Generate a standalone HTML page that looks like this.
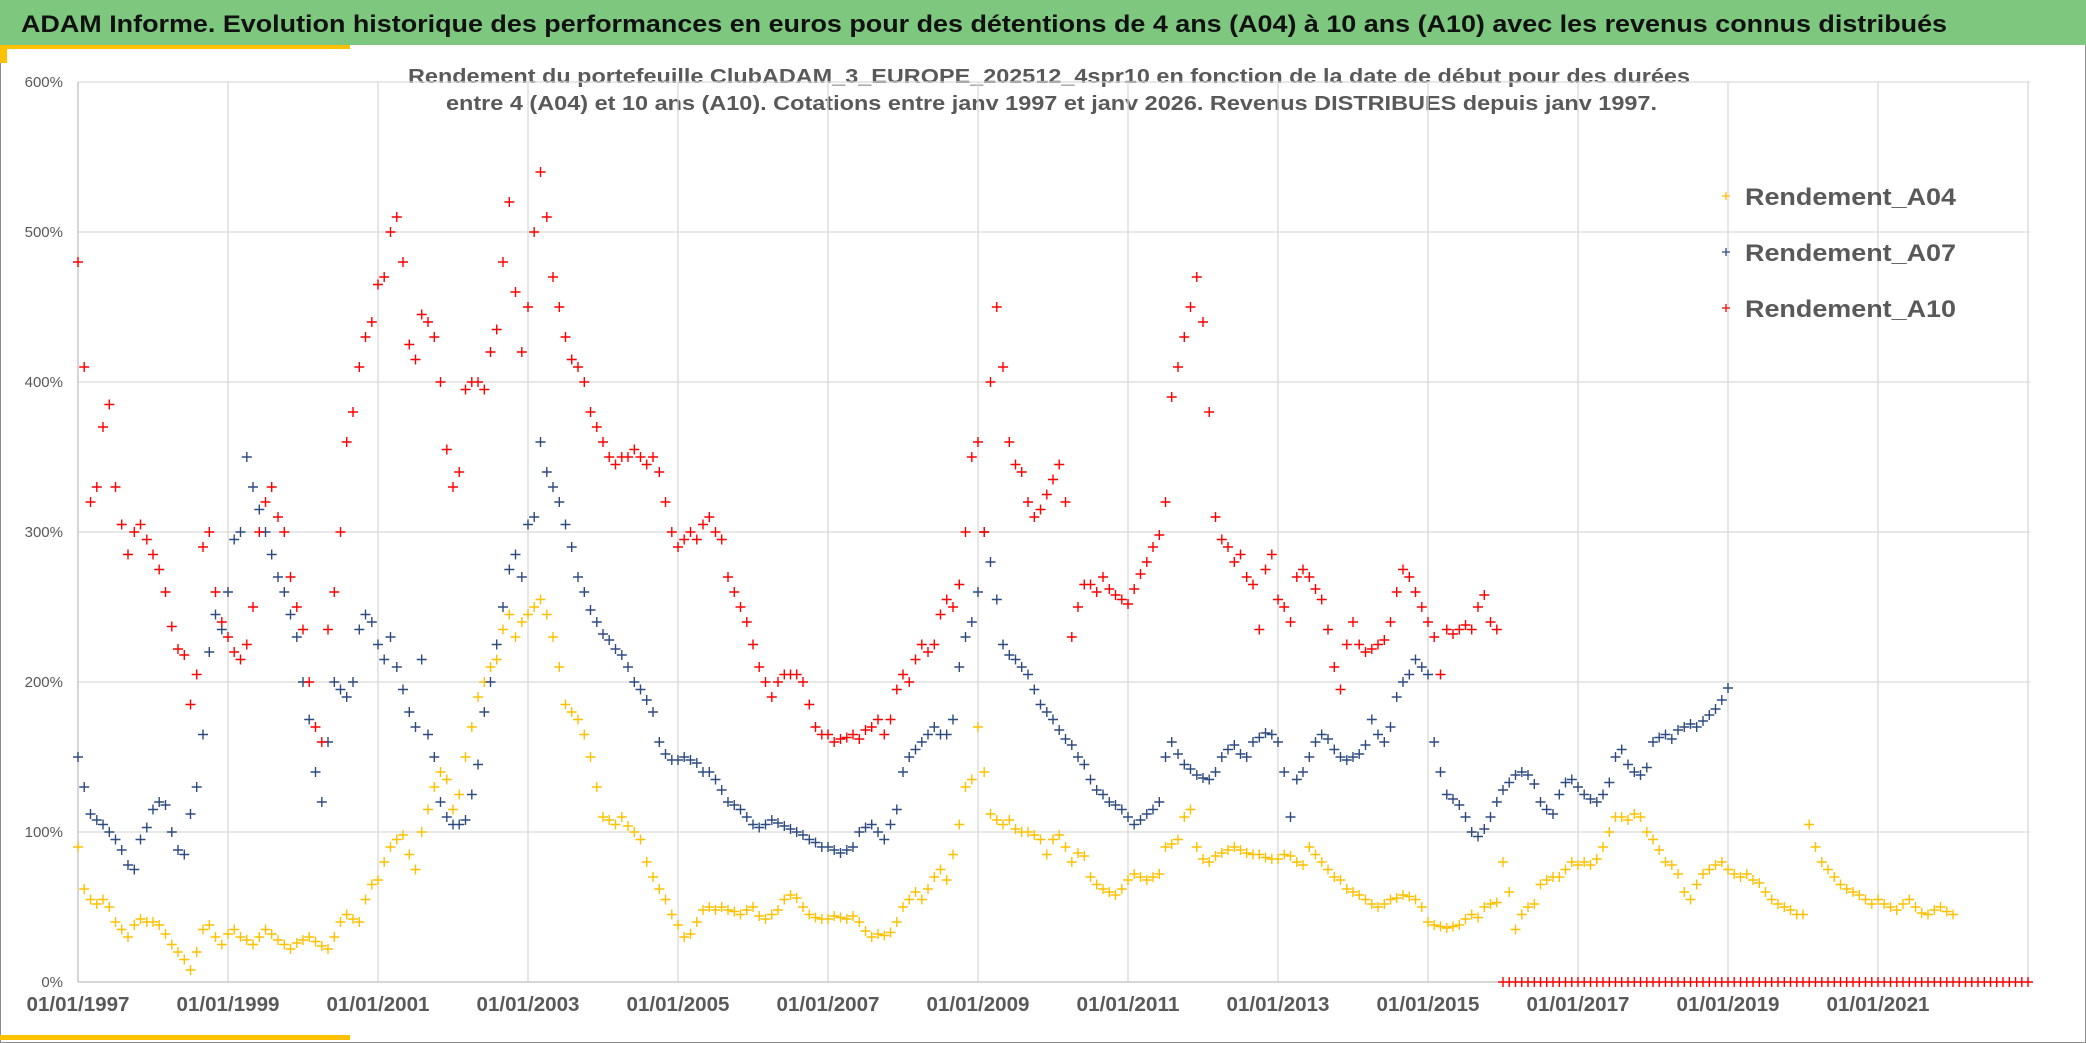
<!DOCTYPE html>
<html><head><meta charset="utf-8"><title>ADAM Informe</title>
<style>
html,body{margin:0;padding:0;background:#fff;}
svg{display:block;}
text{font-family:"Liberation Sans",sans-serif;}
</style></head>
<body>
<svg id="chart" width="2086" height="1043" viewBox="0 0 2086 1043" xmlns="http://www.w3.org/2000/svg">
  <rect x="0" y="0" width="2086" height="1043" fill="#ffffff"/>
  <rect x="0.5" y="0.5" width="2085" height="1042" fill="none" stroke="#8c8c8c" stroke-width="1"/>
  <rect x="0" y="0" width="2086" height="45" fill="#7dc77f"/>
  <rect x="0" y="45" width="350" height="4" fill="#ffc000"/>
  <rect x="0" y="45" width="7" height="18" fill="#ffc000"/>
  <rect x="0" y="1035" width="350" height="5" fill="#ffc000"/>
  <text x="21" y="32" font-size="24" font-weight="bold" fill="#111" textLength="1926" lengthAdjust="spacingAndGlyphs">ADAM Informe. Evolution historique des performances en euros pour des détentions de 4 ans (A04) à 10 ans (A10) avec les revenus connus distribués</text>
  <text x="408" y="83" font-size="20" font-weight="bold" fill="#595959" textLength="1282" lengthAdjust="spacingAndGlyphs">Rendement du portefeuille ClubADAM_3_EUROPE_202512_4spr10  en fonction de la date de début pour des durées</text>
  <text x="446" y="110" font-size="20" font-weight="bold" fill="#595959" textLength="1211" lengthAdjust="spacingAndGlyphs">entre 4 (A04) et 10 ans (A10). Cotations entre janv 1997 et janv 2026. Revenus DISTRIBUES depuis janv 1997.</text>
  <g id="grid"></g>
  <g id="yaxis"></g>
  <g id="xaxis"></g>
  <g id="series"></g>
  <g id="legend"></g>
</svg>
<script>
// ---- data (monthly samples, values in %) ----
const startYear = 1997;
const yTicks = [0, 100, 200, 300, 400, 500, 600];
const xTickYears = [1997, 1999, 2001, 2003, 2005, 2007, 2009, 2011, 2013, 2015, 2017, 2019, 2021, 2023];
const xTickLabels = ["01/01/1997","01/01/1999","01/01/2001","01/01/2003","01/01/2005","01/01/2007","01/01/2009","01/01/2011","01/01/2013","01/01/2015","01/01/2017","01/01/2019","01/01/2021",""];
const seriesNames = ["Rendement_A04", "Rendement_A07", "Rendement_A10"];
const rendementA04 = [
 90,62,55,52,55,50,40,35,30,38,42,40,
 40,38,32,25,20,15,8,20,35,38,30,25,
 32,35,30,28,25,30,35,32,28,25,22,26,
 28,30,27,24,22,30,40,45,42,40,55,65,
 68,80,90,95,98,85,75,100,115,130,140,135,
 115,125,150,170,190,200,210,215,235,245,230,240,
 245,250,255,245,230,210,185,180,175,165,150,130,
 110,108,105,110,104,100,95,80,70,62,55,45,
 38,30,32,40,48,50,48,50,48,47,45,48,
 50,44,42,45,48,55,58,56,50,45,43,42,
 42,44,43,42,44,40,34,30,32,31,33,40,
 50,55,60,55,62,70,75,68,85,105,130,135,
 170,140,112,108,105,108,102,100,100,98,95,85,
 95,98,90,80,86,84,70,65,62,60,58,62,
 68,72,70,68,70,72,90,92,95,110,115,90,
 82,80,84,86,88,90,88,86,85,85,83,82,
 82,85,84,80,78,90,85,80,75,70,68,62,
 60,58,55,52,50,52,55,56,58,57,55,50,
 40,38,37,36,37,38,42,45,43,50,52,53,
 80,60,35,45,50,52,65,68,70,70,75,80,
 78,80,78,82,90,100,110,110,108,112,110,100,
 95,88,80,78,72,60,55,65,72,75,78,80,
 75,72,70,72,68,66,60,55,52,50,48,45,
 45,105,90,80,75,70,65,62,60,58,55,52,
 55,52,50,48,52,55,50,46,45,48,50,47,
 45];
const rendementA07 = [
 150,130,112,108,105,100,95,88,78,75,95,103,
 115,120,118,100,88,85,112,130,165,220,245,235,
 260,295,300,350,330,315,300,285,270,260,245,230,
 200,175,140,120,160,200,195,190,200,235,245,240,
 225,215,230,210,195,180,170,215,165,150,120,110,
 105,105,108,125,145,180,200,225,250,275,285,270,
 305,310,360,340,330,320,305,290,270,260,248,240,
 232,228,222,218,210,200,195,188,180,160,152,148,
 148,150,148,146,140,140,135,128,120,118,115,110,
 105,103,105,108,106,104,102,100,98,95,93,90,
 90,88,86,88,90,100,103,105,100,95,105,115,
 140,150,155,160,165,170,165,165,175,210,230,240,
 260,300,280,255,225,218,215,210,205,195,185,180,
 175,168,162,158,150,145,135,128,125,120,118,115,
 110,105,108,112,115,120,150,160,152,145,142,138,
 136,135,140,150,155,158,152,150,160,163,166,165,
 160,140,110,135,140,150,160,165,162,155,150,148,
 150,152,158,175,165,160,170,190,200,205,215,210,
 205,160,140,125,122,118,110,100,97,102,110,120,
 128,133,138,140,138,132,120,115,112,125,133,135,
 130,125,122,120,125,133,150,155,145,140,138,143,
 160,163,165,162,168,170,172,170,174,178,182,188,
 196];
const rendementA10 = [
 480,410,320,330,370,385,330,305,285,300,305,295,
 285,275,260,237,222,218,185,205,290,300,260,240,
 230,220,215,225,250,300,320,330,310,300,270,250,
 235,200,170,160,235,260,300,360,380,410,430,440,
 465,470,500,510,480,425,415,445,440,430,400,355,
 330,340,395,400,400,395,420,435,480,520,460,420,
 450,500,540,510,470,450,430,415,410,400,380,370,
 360,350,345,350,350,355,350,345,350,340,320,300,
 290,295,300,295,305,310,300,295,270,260,250,240,
 225,210,200,190,200,205,205,205,200,185,170,165,
 165,160,162,163,165,162,168,170,175,165,175,195,
 205,200,215,225,220,225,245,255,250,265,300,350,
 360,300,400,450,410,360,345,340,320,310,315,325,
 335,345,320,230,250,265,265,260,270,262,258,255,
 252,262,272,280,290,298,320,390,410,430,450,470,
 440,380,310,295,290,280,285,270,265,235,275,285,
 255,250,240,270,275,270,262,255,235,210,195,225,
 240,225,220,222,225,228,240,260,275,270,260,250,
 240,230,205,235,232,235,238,235,250,258,240,235,
 0,0,0,0,0,0,0,0,0,0,0,0,
 0,0,0,0,0,0,0,0,0,0,0,0,
 0,0,0,0,0,0,0,0,0,0,0,0,
 0,0,0,0,0,0,0,0,0,0,0,0,
 0,0,0,0,0,0,0,0,0,0,0,0,
 0,0,0,0,0,0,0,0,0,0,0,0,
 0,0,0,0,0,0,0,0,0,0,0,0,
 0];

// ---- layout ----
const NS = "http://www.w3.org/2000/svg";
const plot = {left: 78, right: 2030, top: 82, bottom: 982};
const yMax = 600;
const pxPerYear = 75;
function xScale(year){ return plot.left + (year - startYear) * pxPerYear; }
function yScale(v){ return plot.bottom - (v / yMax) * (plot.bottom - plot.top); }
function mk(tag, attrs, parent){
  const el = document.createElementNS(NS, tag);
  for (const k in attrs) el.setAttribute(k, attrs[k]);
  parent.appendChild(el);
  return el;
}
const grid = document.getElementById('grid');
const yaxis = document.getElementById('yaxis');
const xaxis = document.getElementById('xaxis');
const series = document.getElementById('series');
const legend = document.getElementById('legend');

yTicks.forEach(function(t){
  const y = yScale(t);
  if (t > 0) {
    const l = mk('line', {x1: plot.left, x2: plot.right, y1: y, y2: y, stroke: '#d9d9d9', 'stroke-width': 1.3}, grid);
    
    
  }
  const tx = mk('text', {x: 63, y: y + 5, 'font-size': 15, fill: '#595959', 'text-anchor': 'end'}, yaxis);
  tx.textContent = t + '%';
  
  
});
xTickYears.forEach(function(yr, i){
  const x = xScale(yr);
  if (i > 0) {
    const l = mk('line', {x1: x, x2: x, y1: plot.top, y2: plot.bottom, stroke: '#d9d9d9', 'stroke-width': 1.3}, grid);
    
    
  }
  if (xTickLabels[i]) {
    const tx = mk('text', {x: x, y: 1011, 'font-size': 20, 'font-weight': 'bold', fill: '#595959', 'text-anchor': 'middle', textLength: 103, lengthAdjust: 'spacingAndGlyphs'}, xaxis);
    tx.textContent = xTickLabels[i];
    
    
  }
});
const ax = mk('line', {x1: plot.left, x2: plot.left, y1: plot.top, y2: plot.bottom, stroke: '#bfbfbf', 'stroke-width': 1.3}, yaxis);


const bx = mk('line', {x1: plot.left, x2: plot.right, y1: plot.bottom, y2: plot.bottom, stroke: '#bfbfbf', 'stroke-width': 1.3}, xaxis);



function drawSeries(values, color, name){
  const g = mk('g', {}, series);
  
  
  let d = '';
  values.forEach(function(v, i){
    const x = xScale(startYear + i / 12);
    const y = yScale(v);
    d += 'M' + (x - 5).toFixed(1) + ' ' + y.toFixed(1) + 'h10M' + x.toFixed(1) + ' ' + (y - 5).toFixed(1) + 'v10';
  });
  const p = mk('path', {d: d, stroke: color, 'stroke-width': 1.4, fill: 'none'}, g);
  
  
}
const colors = ['#ffc000', '#2e4b80', '#ff0000'];
drawSeries(rendementA04, colors[0], 'rendement-a04');
drawSeries(rendementA07, colors[1], 'rendement-a07');
drawSeries(rendementA10, colors[2], 'rendement-a10');

const legendY = [196, 252, 308];
seriesNames.forEach(function(n, i){
  const y = legendY[i];
  const g = mk('g', {}, legend);
  
  
  mk('path', {d: 'M1722 ' + y + 'h8M1726 ' + (y - 4) + 'v8', stroke: colors[i], 'stroke-width': 1.3, fill: 'none'}, g);
  const t = mk('text', {x: 1745, y: y + 9, 'font-size': 24, 'font-weight': 'bold', fill: '#595959', textLength: 211, lengthAdjust: 'spacingAndGlyphs'}, g);
  t.textContent = n;
});
</script>
</body></html>
